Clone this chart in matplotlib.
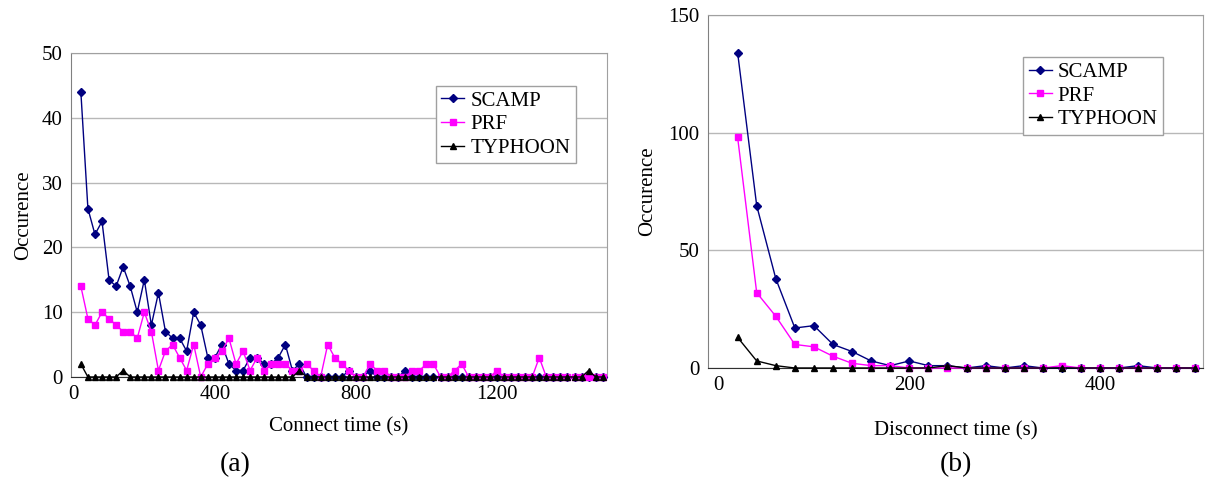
import matplotlib.pyplot as plt
import numpy as np

plt.rcParams['font.family'] = ['Liberation Serif', 'DejaVu Serif']

# (a) connect time, 20 s bins from 20 to 1500 s
connect_t = np.arange(20, 1501, 20)

scamp_a = [44, 26, 22, 24, 15, 14, 17, 14, 10, 15,
           8, 13, 7, 6, 6, 4, 10, 8, 3, 3,
           5, 2, 1, 1, 3, 3, 2, 2, 3, 5,
           1, 2, 0, 0, 0, 0, 0, 0, 1, 0,
           0, 1, 0, 0, 0, 0, 1, 0, 0, 0] + [0] * 25
prf_a = [14, 9, 8, 10, 9, 8, 7, 7, 6, 10,
         7, 1, 4, 5, 3, 1, 5, 0, 2, 3,
         4, 6, 2, 4, 1, 3, 1, 2, 2, 2,
         1, 1, 2, 1, 0, 5, 3, 2, 1, 0,
         0, 2, 1, 1, 0, 0, 0, 1, 1, 2,
         2, 0, 0, 1, 2, 0, 0, 0, 0, 1,
         0, 0, 0, 0, 0, 3, 0, 0, 0, 0,
         0, 0, 0, 0, 0]
typhoon_a = [0] * 75
typhoon_a[0] = 2
typhoon_a[6] = 1
typhoon_a[31] = 1
typhoon_a[72] = 1

# (b) disconnect time, 20 s bins from 20 to 500 s
disconnect_t = np.arange(20, 501, 20)
scamp_b = [134, 69, 38, 17, 18, 10, 7, 3, 1, 3,
           1, 1, 0, 1, 0, 1, 0, 0, 0, 0,
           0, 1, 0, 0, 0]
prf_b = [98, 32, 22, 10, 9, 5, 2, 1, 1, 0,
         0, 0, 0, 0, 0, 0, 0, 1, 0, 0,
         0, 0, 0, 0, 0]
typhoon_b = [13, 3, 1, 0, 0, 0, 0, 0, 0, 0,
             0, 1, 0, 0, 0, 0, 0, 0, 0, 0,
             0, 0, 0, 0, 0]

FS = 15

fig = plt.figure(figsize=(12.05, 4.83), dpi=100)
ax1 = fig.add_axes([0.0589, 0.2195, 0.4448, 0.6708])
ax2 = fig.add_axes([0.5876, 0.2381, 0.4108, 0.7308])


def draw(ax, t, scamp, prf, typhoon):
    ax.plot(t, scamp, color='#000080', marker='D', ms=4, lw=1.0, clip_on=False,
            label='SCAMP', zorder=3)
    ax.plot(t, prf, color='#ff00ff', marker='s', ms=5, lw=1.0, clip_on=False,
            label='PRF', zorder=3)
    ax.plot(t, typhoon, color='black', marker='^', ms=5, lw=1.0, clip_on=False,
            label='TYPHOON', zorder=4)
    ax.grid(axis='y', color='#b8b8b8', lw=1.0)
    ax.set_axisbelow(True)
    for s in ax.spines.values():
        s.set_color('#a0a0a0')
    ax.spines['left'].set_color('#808080')
    ax.spines['bottom'].set_color('#303030')
    ax.tick_params(labelsize=FS, length=0, pad=6)
    leg = ax.legend(loc='upper right', fontsize=FS, frameon=True, fancybox=False,
                    edgecolor='#a0a0a0', framealpha=1, handlelength=1.1,
                    handletextpad=0.3, borderpad=0.25, labelspacing=0.2,
                    borderaxespad=0)
    leg.get_frame().set_linewidth(1.0)
    return leg


leg1 = draw(ax1, connect_t, scamp_a, prf_a, typhoon_a)
ax1.set_xlim(-8, 1512)
ax1.set_ylim(0, 50)
ax1.set_xticks([0, 400, 800, 1200])
ax1.set_yticks(range(0, 51, 10))
ax1.set_xlabel('Connect time (s)', fontsize=FS, labelpad=9)
ax1.set_ylabel('Occurence', fontsize=FS, labelpad=6)
leg1.set_bbox_to_anchor((0.942, 0.899), transform=ax1.transAxes)

leg2 = draw(ax2, disconnect_t, scamp_b, prf_b, typhoon_b)
ax2.set_xlim(-11, 508)
ax2.set_ylim(0, 150)
ax2.set_xticks([0, 200, 400])
ax2.set_yticks([0, 50, 100, 150])
ax2.set_xlabel('Disconnect time (s)', fontsize=FS, labelpad=19)
ax2.set_ylabel('Occurence', fontsize=FS, labelpad=8)
leg2.set_bbox_to_anchor((0.919, 0.881), transform=ax2.transAxes)

fig.text(0.195, 0.025, '(a)', fontsize=20, ha='center')
fig.text(0.793, 0.025, '(b)', fontsize=20, ha='center')

fig.savefig('out.png', dpi=100)
